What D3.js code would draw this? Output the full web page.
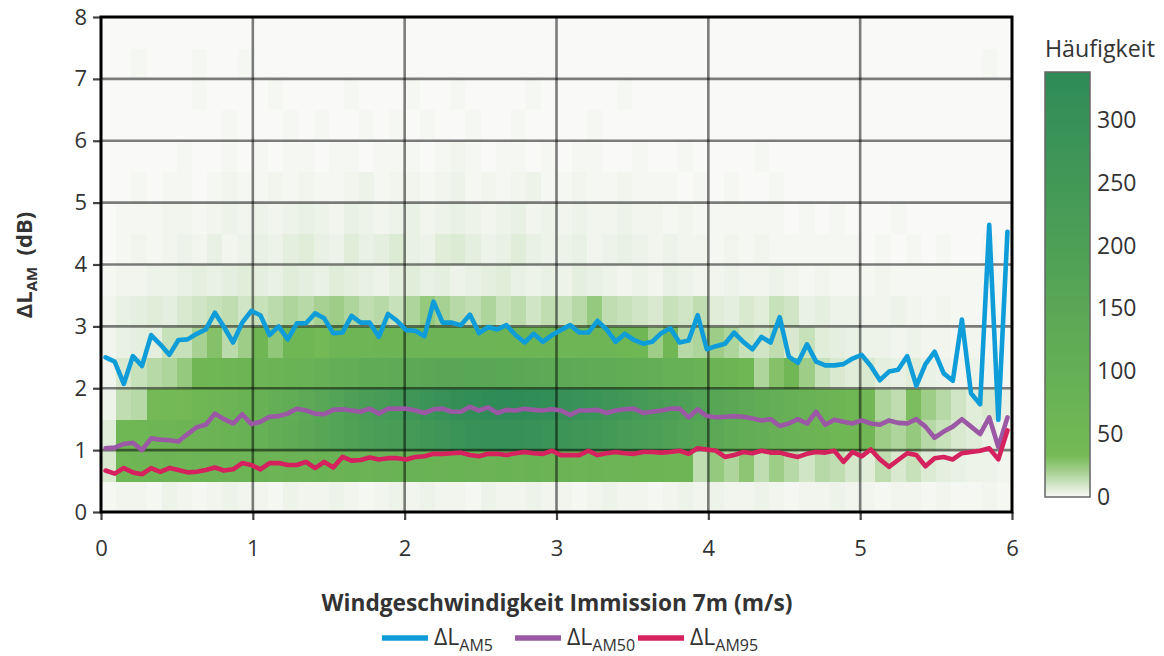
<!DOCTYPE html>
<html><head><meta charset="utf-8">
<script src="https://cdn.jsdelivr.net/npm/d3@7"></script>
<style>body{margin:0;background:#fff}svg{display:block}</style>
</head><body>
<svg id="c" width="1164" height="656"></svg>
<script>
// ---------------- DATA ----------------
const windSpeed = [0.03,0.09,0.15,0.21,0.27,0.33,0.39,0.45,0.51,0.57,0.63,0.69,0.75,0.81,0.87,0.93,0.99,1.05,1.11,1.17,1.23,1.29,1.35,1.41,1.47,1.53,1.59,1.65,1.71,1.77,1.83,1.89,1.95,2.01,2.07,2.13,2.19,2.25,2.31,2.37,2.43,2.49,2.55,2.61,2.67,2.73,2.79,2.85,2.91,2.97,3.03,3.09,3.15,3.21,3.27,3.33,3.39,3.45,3.51,3.57,3.63,3.69,3.75,3.81,3.87,3.93,3.99,4.05,4.11,4.17,4.23,4.29,4.35,4.41,4.47,4.53,4.59,4.65,4.71,4.77,4.83,4.89,4.95,5.01,5.07,5.13,5.19,5.25,5.31,5.37,5.43,5.49,5.55,5.61,5.67,5.73,5.79,5.85,5.91,5.97];
const am5 = [2.50,2.43,2.07,2.52,2.36,2.86,2.71,2.54,2.78,2.79,2.88,2.95,3.22,2.99,2.74,3.06,3.25,3.18,2.86,3.00,2.79,3.05,3.05,3.21,3.13,2.89,
  2.90,3.17,3.06,3.06,2.83,3.20,3.09,2.94,2.93,2.84,3.40,3.06,3.06,3.02,3.19,2.89,2.99,2.95,3.02,2.86,2.74,2.88,2.75,2.86,2.94,
  3.02,2.90,2.90,3.09,2.95,2.75,2.88,2.78,2.72,2.75,2.89,2.97,2.74,2.77,3.18,2.63,2.68,2.72,2.90,2.75,2.63,2.83,2.74,3.15,2.51,
  2.41,2.71,2.43,2.37,2.37,2.39,2.48,2.54,2.36,2.13,2.27,2.30,2.52,2.04,2.39,2.59,2.24,2.12,3.11,1.92,1.74,4.64,1.49,4.53];
const am50 = [1.03,1.04,1.10,1.12,1.00,1.19,1.17,1.16,1.14,1.26,1.37,1.41,1.59,1.50,1.43,1.58,1.42,1.46,1.54,1.55,1.59,1.67,1.64,1.59,1.58,1.65,
  1.66,1.64,1.62,1.67,1.59,1.67,1.67,1.67,1.64,1.60,1.66,1.67,1.62,1.62,1.70,1.64,1.69,1.60,1.65,1.64,1.67,1.65,1.64,1.66,1.64,
  1.57,1.64,1.64,1.65,1.60,1.64,1.66,1.67,1.60,1.62,1.64,1.67,1.67,1.53,1.66,1.55,1.53,1.54,1.55,1.54,1.51,1.48,1.50,1.39,1.43,
  1.50,1.43,1.62,1.41,1.49,1.46,1.43,1.48,1.43,1.41,1.48,1.44,1.43,1.50,1.38,1.20,1.30,1.38,1.50,1.38,1.26,1.53,1.05,1.53];
const am95 = [0.67,0.62,0.71,0.64,0.61,0.71,0.65,0.71,0.68,0.64,0.65,0.68,0.72,0.67,0.69,0.79,0.76,0.69,0.79,0.79,0.76,0.76,0.81,0.71,0.81,0.72,
  0.89,0.83,0.84,0.88,0.85,0.87,0.87,0.85,0.89,0.90,0.94,0.94,0.95,0.96,0.92,0.90,0.94,0.94,0.92,0.95,0.97,0.95,0.94,0.99,0.92,
  0.92,0.92,0.99,0.92,0.95,0.97,0.95,0.94,0.97,0.97,0.96,0.97,0.99,0.94,1.03,1.01,0.99,0.89,0.92,0.97,0.95,0.99,0.96,0.96,0.92,
  0.89,0.94,0.97,0.96,0.99,0.81,0.97,0.90,1.01,0.85,0.73,0.84,0.95,0.92,0.74,0.87,0.89,0.85,0.95,0.97,0.99,1.03,0.85,1.32];

// heatmap bins: column starts (m/s, width 0.1) and row starts (dB, height 0.5)
const binWidth = 0.1, binHeight = 0.5;
const xBinStart = [0,0.1,0.2,0.3,0.4,0.5,0.6,0.7,0.8,0.9,1.0,1.1,1.2,1.3,1.4,1.5,1.6,1.7,1.8,1.9,2.0,2.1,2.2,2.3,2.4,2.5,2.6,2.7,2.8,2.9,3.0,3.1,3.2,3.3,3.4,3.5,3.6,3.7,3.8,3.9,4.0,4.1,4.2,4.3,4.4,4.5,4.6,4.7,4.8,4.9,5.0,5.1,5.2,5.3,5.4,5.5,5.6,5.7,5.8,5.9];
const yBinStart = [0,0.5,1.0,1.5,2.0,2.5,3.0,3.5,4.0,4.5,5.0,5.5,6.0,6.5,7.0,7.5];
const counts = [
  [1,2,2,1,3,2,1,2,3,2, 2,1,3,2,2,3,2,1,2,3, 2,3,2,2,1,3,2,2,3,2, 2,1,2,3,2,2,1,2,3,2, 3,2,2,3,2,1,2,2,3,2, 2,1,2,2,1,2,1,1,2,1],
  [8,55,58,60,62,60,65,63,66,68, 70,68,72,70,74,72,75,73,76,74, 78,75,77,74,76,73,75,72,74,70, 72,68,70,66,68,64,62,60,58,14, 24,18,26,14,22,16,10,16,14,9, 6,14,8,12,7,5,4,3,3,2],
  [6,55,55,58,60,62,65,70,75,85, 95,110,125,140,160,175,190,205,215,225, 240,255,270,285,295,300,305,300,295,285, 275,265,255,245,230,220,205,190,175,160, 140,125,110,100,90,80,70,62,55,50, 42,22,18,24,16,12,8,6,4,2],
  [3,14,16,32,35,38,55,60,65,75, 85,100,115,135,155,175,195,215,230,245, 265,280,295,310,320,330,335,330,325,320, 300,290,280,270,255,240,225,210,195,180, 160,145,130,115,100,90,80,70,62,55, 45,18,14,30,22,16,10,6,8,4],
  [2,8,12,16,18,24,50,55,58,62, 65,70,75,80,90,100,110,120,125,130, 140,145,150,150,155,150,148,145,140,138, 135,130,125,120,115,110,100,95,90,80, 70,62,55,18,28,45,22,12,8,6, 8,5,4,6,4,3,2,3,2,1],
  [2,4,5,5,12,12,20,28,15,22, 50,25,55,55,35,58,60,60,62,62, 65,65,66,66,65,66,64,64,62,62, 60,60,58,58,55,52,22,45,16,18, 22,18,12,10,14,8,12,6,5,4, 3,3,2,3,2,2,1,2,1,1],
  [2,4,5,6,5,8,10,12,14,10, 12,15,18,16,20,22,18,14,16,12, 18,24,20,16,14,18,12,15,10,14, 12,16,24,14,12,10,8,12,10,14, 6,5,8,6,12,10,4,5,3,3, 2,2,3,2,1,2,1,1,1,1],
  [1,2,2,3,3,4,5,4,5,6, 5,4,6,5,4,6,5,4,3,5, 6,4,5,3,4,5,6,4,3,4, 3,5,4,3,2,3,2,4,3,2, 2,3,2,2,3,2,1,2,1,1, 1,2,1,1,1,1,1,1,1,1],
  [0,1,2,1,2,3,2,4,2,3, 4,3,5,6,4,3,6,4,5,7, 4,3,6,7,5,3,4,6,4,3, 3,4,2,3,4,3,2,3,2,2, 1,2,1,2,1,1,1,1,1,1, 0,1,0,1,0,1,0,0,1,0],
  [0,1,1,1,2,2,1,2,3,2, 3,2,3,4,3,2,4,3,2,3, 4,2,3,4,3,2,3,4,2,3, 2,3,2,2,3,2,2,1,2,1, 1,1,1,1,1,0,1,0,1,0, 0,0,1,0,0,0,0,0,0,0],
  [0,0,1,0,1,1,0,1,2,1, 1,2,1,2,1,1,2,3,1,2, 2,1,2,3,1,2,1,2,3,1, 1,2,1,1,2,1,1,1,0,1, 0,1,0,0,1,0,0,0,0,0, 0,0,0,0,0,0,0,0,0,0],
  [0,0,0,0,0,1,0,0,1,0, 1,0,1,1,0,1,1,0,1,1, 1,0,1,2,1,0,1,1,0,1, 0,1,1,0,0,1,0,0,1,0, 0,0,0,1,0,0,0,0,0,0, 0,0,0,0,0,0,0,0,0,0],
  [0,0,0,0,0,0,0,0,1,0, 0,0,1,0,1,0,0,1,0,1, 0,1,0,0,1,0,0,1,0,0, 0,0,1,0,0,0,0,0,0,0, 0,0,0,0,0,0,0,0,0,0, 0,0,0,0,0,0,0,0,0,0],
  [0,0,0,0,0,0,1,0,0,0, 0,1,0,0,0,0,1,0,0,0, 1,0,0,1,0,0,0,0,1,0, 0,0,0,0,1,0,0,0,0,0, 0,0,0,0,0,0,0,0,0,0, 0,0,0,0,0,0,0,0,0,0],
  [0,0,1,0,0,0,1,0,0,1, 0,0,0,0,0,0,0,0,0,0, 0,0,0,0,0,0,0,0,0,0, 0,0,0,0,0,0,0,0,0,0, 0,0,0,0,0,0,0,0,0,0, 0,0,0,0,0,0,0,0,1,0],
  [0,0,0,0,0,0,0,0,0,0, 0,0,0,0,0,0,0,0,0,0, 0,0,0,0,0,0,0,0,0,0, 0,0,0,0,0,0,0,0,0,0, 0,0,0,0,0,0,0,0,0,0, 0,0,0,0,0,0,0,0,0,0]
];
const xTicks = [0,1,2,3,4,5,6];
const yTicks = [0,1,2,3,4,5,6,7,8];
const cbTicks = [0,50,100,150,200,250,300];
const cbMax = 338;
const seriesNames = ["AM5","AM50","AM95"];
const seriesValues = [am5, am50, am95];

// ---------------- DRAW ----------------
const svg = d3.select("#c");
const FONT = "'Open Sans', 'Noto Sans', sans-serif";
const TXT = "#333";
const x = d3.scaleLinear().domain([0,6]).range([101,1012]);
const y = d3.scaleLinear().domain([0,8]).range([512,17]);
const color = d3.scaleLinear().domain([0,32,cbMax]).range(["#f9f9f8","#74b955","#2e8b57"]).clamp(true);
const seriesColors = ["#0e9dd8","#9b58a5","#d5215e"];

// background
svg.append("rect").attr("x",x(0)).attr("y",y(8)).attr("width",x(6)-x(0)).attr("height",y(0)-y(8)).attr("fill","#f9f9f8");

// heatmap
const cells = [];
counts.forEach((row,ri)=>row.forEach((v,ci)=>cells.push({x0:xBinStart[ci], y0:yBinStart[ri], v})));
svg.append("g").attr("shape-rendering","crispEdges").selectAll("rect").data(cells).join("rect")
  .attr("x",d=>x(d.x0))
  .attr("y",d=>y(d.y0+binHeight))
  .attr("width",d=>x(d.x0+binWidth)-x(d.x0)+0.6)
  .attr("height",d=>y(d.y0)-y(d.y0+binHeight)+0.6)
  .attr("fill",d=>color(d.v));

// grid
const grid = svg.append("g").attr("stroke","#000").attr("stroke-opacity",0.5).attr("stroke-width",2.6);
grid.selectAll(".gx").data(xTicks.slice(1,-1)).join("line").attr("x1",d=>x(d)).attr("x2",d=>x(d)).attr("y1",y(8)).attr("y2",y(0));
grid.selectAll(".gy").data(yTicks.slice(1,-1)).join("line").attr("y1",d=>y(d)).attr("y2",d=>y(d)).attr("x1",x(0)).attr("x2",x(6));

// lines
const line = d3.line().x((d,i)=>x(windSpeed[i])).y(d=>y(d));
seriesValues.forEach((vals,k)=>{
  svg.append("path").datum(vals).attr("d",line).attr("fill","none")
    .attr("stroke",seriesColors[k]).attr("stroke-width",4.6)
    .attr("stroke-linejoin","round").attr("stroke-linecap","round");
});

// axes
const ax = svg.append("g").attr("transform",`translate(0,${y(0)})`)
  .call(d3.axisBottom(x).tickValues(xTicks).tickSize(8).tickPadding(20).tickFormat(d3.format("d")));
const ay = svg.append("g").attr("transform",`translate(${x(0)},0)`)
  .call(d3.axisLeft(y).tickValues(yTicks).tickSize(8).tickPadding(6).tickFormat(d3.format("d")));
[ax,ay].forEach(a=>{
  a.select(".domain").remove();
  a.selectAll(".tick line").attr("stroke","#444").attr("stroke-width",2.2);
  a.selectAll(".tick text").attr("fill",TXT).attr("font-family",FONT).attr("font-size",22);
});

// frame
svg.append("rect").attr("x",x(0)).attr("y",y(8)).attr("width",x(6)-x(0)).attr("height",y(0)-y(8))
  .attr("fill","none").attr("stroke","#000").attr("stroke-width",3);

// axis titles
const xt = svg.append("text").attr("x",557).attr("y",611).attr("text-anchor","middle")
  .attr("font-family",FONT).attr("font-weight","bold").attr("font-size",22).attr("fill",TXT)
  .text("Windgeschwindigkeit Immission 7m (m/s)");
{ const w = xt.node().getComputedTextLength(); xt.attr("font-size", 22*471/w); }

const yt = svg.append("text").attr("transform","translate(32,265) rotate(-90)").attr("text-anchor","middle")
  .attr("font-family",FONT).attr("font-weight","bold").attr("font-size",22).attr("fill",TXT)
  .attr("xml:space","preserve");
yt.append("tspan").text("ΔL");
yt.append("tspan").attr("font-size",15).attr("dy",5).text("AM");
yt.append("tspan").attr("dy",-5).text("  (dB)");

// legend
const legX = [382,515,638];
seriesNames.forEach((n,k)=>{
  const g = svg.append("g");
  g.append("line").attr("x1",legX[k]).attr("x2",legX[k]+46).attr("y1",638).attr("y2",638)
    .attr("stroke",seriesColors[k]).attr("stroke-width",5.5);
  const t = g.append("text").attr("x",legX[k]+52).attr("y",645).attr("font-family",FONT)
    .attr("font-size",23).attr("fill",TXT);
  t.append("tspan").text("ΔL");
  t.append("tspan").attr("font-size",16).attr("dy",6).text(n);
});

// colorbar
const cbY = d3.scaleLinear().domain([0,cbMax]).range([497,72]);
const defs = svg.append("defs");
const grad = defs.append("linearGradient").attr("id","cbg").attr("x1",0).attr("y1",1).attr("x2",0).attr("y2",0);
d3.range(0,1.0001,0.02).forEach(t=>grad.append("stop").attr("offset",t).attr("stop-color",color(t*cbMax)));
svg.append("rect").attr("x",1045).attr("y",cbY(cbMax)).attr("width",45).attr("height",cbY(0)-cbY(cbMax))
  .attr("fill","url(#cbg)").attr("stroke","#666").attr("stroke-width",1.5);
svg.append("g").selectAll("text").data(cbTicks).join("text")
  .attr("x",1097).attr("y",d=>cbY(d)).attr("dy","0.35em")
  .attr("font-family",FONT).attr("font-size",23).attr("fill",TXT).text(d=>d);
const ht = svg.append("text").attr("x",1045).attr("y",57).attr("font-family",FONT).attr("font-size",20).attr("fill",TXT).text("Häufigkeit");
{ const w = ht.node().getComputedTextLength(); ht.attr("font-size", 20*110/w); }
</script>
</body></html>
